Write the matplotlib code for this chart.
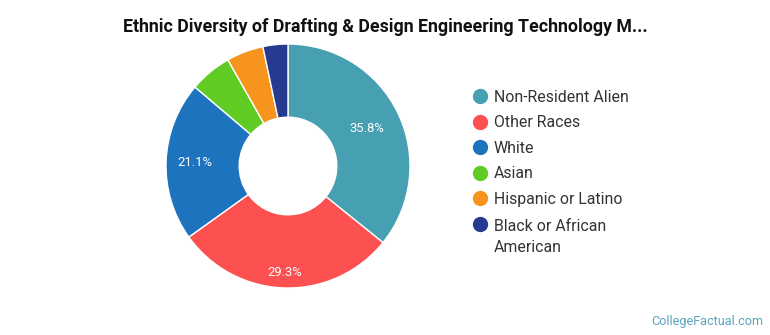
import matplotlib
matplotlib.use("Agg")
import numpy as np
import matplotlib.pyplot as plt

plt.rcParams['font.family'] = ['Roboto', 'DejaVu Sans']

categories = ["Non-Resident Alien", "Other Races", "White", "Asian",
              "Hispanic or Latino", "Black or African\nAmerican"]
shares = [35.8, 29.3, 21.1, 5.6, 4.9, 3.3]
colors = ["#479fb2", "#fd5151", "#1e73be", "#5fcb23", "#f7941d", "#263a8f"]
title = "Ethnic Diversity of Drafting & Design Engineering Technology M..."

W, H = 770, 335
fig = plt.figure(figsize=(W / 100, H / 100), dpi=100)

cx, cy, r = 288, 166, 122
ax = fig.add_axes([(cx - r) / W, (H - cy - r) / H, 2 * r / W, 2 * r / H])

def pct_label(p):
    return f"{p:.1f}%" if p >= 10 else ""

wedges, _, autotexts = ax.pie(
    shares, colors=colors, startangle=90, counterclock=False, radius=1,
    wedgeprops=dict(width=0.6, edgecolor="white", linewidth=1),
    autopct=pct_label, pctdistance=0.72,
    textprops=dict(color="white", fontsize=9.4))
ax.set_xlim(-1, 1)
ax.set_ylim(-1, 1)
ax.set_aspect("equal")
ax.axis("off")

# radial placement of the percentage labels along each wedge's mid-angle
label_radius = [0.72, 0.87, 0.76, 0.7, 0.7, 0.7]
for w, t, rad in zip(wedges, autotexts, label_radius):
    mid = np.deg2rad((w.theta1 + w.theta2) / 2)
    t.set_position((rad * np.cos(mid), rad * np.sin(mid)))

fig.text(385 / W, 1 - 27 / H, title, ha="center", va="center",
         fontsize=12.8, fontweight="bold", color="#111111")

# legend: dot + label per category (baseline sits on the last line)
row_y = 96
line_px = 22
for name, c in zip(categories, colors):
    fig.add_artist(plt.Line2D([480 / W], [1 - row_y / H], marker="o",
                              markersize=10, markerfacecolor=c,
                              markeredgecolor=c, linestyle="none",
                              transform=fig.transFigure))
    extra = (name.count("\n")) * line_px
    fig.text(494 / W, 1 - (row_y + 5.6 + extra) / H, name, ha="left",
             va="baseline", fontsize=11.4, color="#333333", linespacing=1.47)
    row_y += 25.6

fig.text(763 / W, 1 - 321 / H, "CollegeFactual.com", ha="right", va="center",
         fontsize=9.1, color="#5aa3bd")

fig.savefig("out.png", dpi=100)
